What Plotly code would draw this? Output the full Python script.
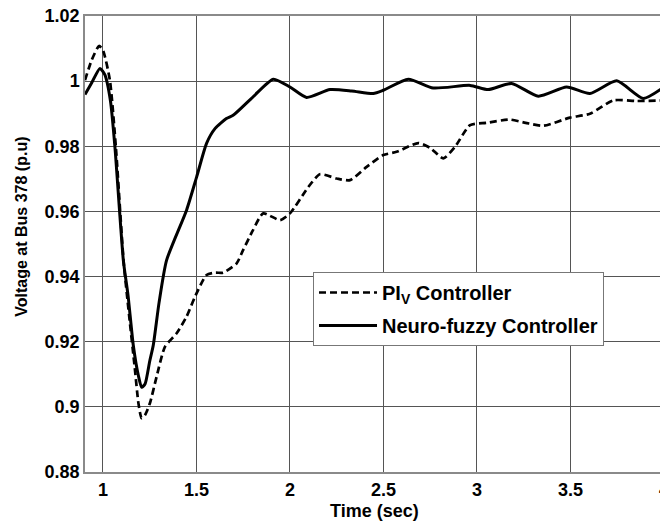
import plotly.graph_objects as go

# Time (sec) and voltage (p.u) for each controller
t_piv = [0.904, 0.94, 0.979, 1.0, 1.037, 1.07, 1.11, 1.14, 1.17, 1.19, 1.207, 1.225, 1.251,
         1.287, 1.332, 1.394, 1.447, 1.492, 1.554, 1.60, 1.643, 1.714, 1.75, 1.80, 1.857,
         1.947, 2.0, 2.098, 2.16, 2.25, 2.321, 2.41, 2.499, 2.57, 2.686, 2.75, 2.82, 2.882,
         2.963, 3.052, 3.176, 3.26, 3.355, 3.497, 3.604, 3.729, 3.854, 4.0]
v_piv = [1.0003, 1.0065, 1.0108, 1.0095, 1.0003, 0.979, 0.945, 0.928, 0.912, 0.901, 0.8965,
         0.8975, 0.9011, 0.9093, 0.9185, 0.9226, 0.9277, 0.9338, 0.9405, 0.9412, 0.9412,
         0.9440, 0.9482, 0.9540, 0.9594, 0.9573, 0.9594, 0.9675, 0.9714, 0.9701, 0.9696,
         0.9737, 0.9773, 0.9783, 0.9810, 0.9795, 0.9763, 0.9798, 0.9865, 0.9872, 0.9882,
         0.9872, 0.9863, 0.9888, 0.9900, 0.9941, 0.9939, 0.9941]

t_nf = [0.904, 0.94, 0.984, 1.01, 1.04, 1.064, 1.109, 1.134, 1.162, 1.189, 1.207, 1.225,
        1.25, 1.269, 1.30, 1.34, 1.447, 1.501, 1.554, 1.60, 1.66, 1.696, 1.803, 1.911,
        2.0, 2.089, 2.214, 2.33, 2.445, 2.499, 2.633, 2.766, 2.963, 3.06, 3.185, 3.328,
        3.479, 3.604, 3.747, 3.889, 4.0]
v_nf = [0.9959, 0.9995, 1.0039, 1.0020, 0.9940, 0.9798, 0.9450, 0.9343, 0.9190, 0.9097,
        0.9060, 0.9070, 0.9140, 0.9189, 0.9320, 0.9450, 0.9604, 0.9706, 0.9809, 0.9855,
        0.9885, 0.9895, 0.9952, 1.0006, 0.9982, 0.9950, 0.9974, 0.9970, 0.9962, 0.9972,
        1.0006, 0.9979, 0.9987, 0.9974, 0.9993, 0.9954, 0.9982, 0.9962, 1.0001, 0.9947,
        0.9982]

x_ticks = [1, 1.5, 2, 2.5, 3, 3.5, 4]
x_tick_labels = ["1", "1.5", "2", "2.5", "3", "3.5", "4"]
y_ticks = [0.88, 0.9, 0.92, 0.94, 0.96, 0.98, 1.0, 1.02]
y_tick_labels = ["0.88", "0.9", "0.92", "0.94", "0.96", "0.98", "1", "1.02"]

font = "Liberation Sans, Arial, sans-serif"

fig = go.Figure()
fig.add_trace(go.Scatter(
    x=t_piv, y=v_piv, mode="lines", name="PI<sub>V</sub> Controller", legendgroup="a",
    line=dict(color="black", width=2.7, dash="7px,4px", shape="spline", smoothing=0.6)))
fig.add_trace(go.Scatter(
    x=t_nf, y=v_nf, mode="lines", name="Neuro-fuzzy Controller", legendgroup="b",
    line=dict(color="black", width=3, shape="spline", smoothing=0.6)))

axis_common = dict(
    showgrid=True, gridcolor="#555555", gridwidth=1,
    showline=True, linecolor="#8a8a8a", linewidth=1.5, mirror=True,
    ticks="", zeroline=False, automargin=False, ticklabeloverflow="allow",
    tickfont=dict(family=font, size=18, color="black", weight="bold"),
)

# the page body adds an 8px offset at top-left, so the figure is sized to compensate
fig.update_layout(
    width=660, height=516,
    margin=dict(l=77, r=4, t=8, b=52),
    paper_bgcolor="white", plot_bgcolor="white",
    font=dict(family=font, color="black"),
    showlegend=True,
    legend=dict(
        x=0.3938, y=0.4386, xanchor="left", yanchor="top",
        bgcolor="white", bordercolor="#777777", borderwidth=1,
        font=dict(family=font, size=20, color="black", weight="bold"),
        itemwidth=58, traceorder="grouped", tracegroupgap=4,
    ),
    xaxis=dict(range=[0.904, 4.0], tickvals=x_ticks, ticktext=x_tick_labels,
               ticklabelstandoff=1, **axis_common),
    yaxis=dict(range=[0.88, 1.02], tickvals=y_ticks, ticktext=y_tick_labels,
               **axis_common),
    annotations=[
        dict(text="Voltage at Bus 378 (p.u)", textangle=-90,
             xref="paper", yref="paper", x=-0.1088, y=0.538,
             xanchor="center", yanchor="middle", showarrow=False,
             font=dict(family=font, size=16, color="black", weight="bold")),
        dict(text="Time (sec)",
             xref="paper", yref="paper", x=0.5, y=-0.0855,
             xanchor="center", yanchor="middle", showarrow=False,
             font=dict(family=font, size=18, color="black", weight="bold")),
    ],
)

fig.write_html("out.html")
